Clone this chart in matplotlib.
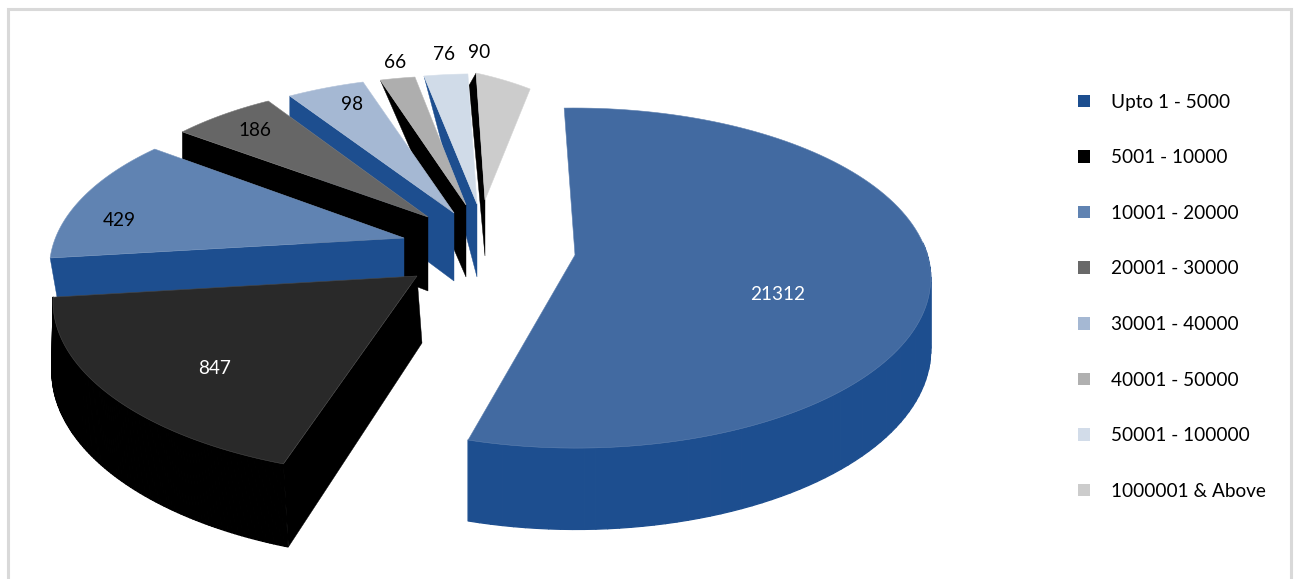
import numpy as np
import matplotlib
matplotlib.use('Agg')
import matplotlib.pyplot as plt
from matplotlib.patches import Polygon, Patch
from matplotlib.collections import PolyCollection

plt.rcParams['font.family'] = ['Lato', 'DejaVu Sans']

# chart data
categories = ['Upto 1 - 5000', '5001 - 10000', '10001 - 20000', '20001 - 30000',
              '30001 - 40000', '40001 - 50000', '50001 - 100000', '1000001 & Above']
values = [21312, 847, 429, 186, 98, 66, 76, 90]
# the slice angles in the picture do not follow the values, so they are read off it
# (degrees clockwise from the back of the pie)
angle_start = [-2.0, 198.6, 263.2, 306.2, 326.4, 342.0, 348.9, 358.1]
angle_end = [195.3, 263.0, 307.0, 326.9, 341.8, 349.3, 358.1, 370.9]

# colours
top_colors = ['#426AA1', '#292929', '#6083B2', '#666666', '#A5B8D3', '#AEAEAE', '#D0DBE8', '#CCCCCC']
side_colors = ['#1D4E8F', '#000000', '#1D4E8F', '#000000', '#1D4E8F', '#000000', '#1D4E8F', '#000000']
legend_colors = ['#1D4E8F', '#000000', '#6083B2', '#696969', '#A5B8D3', '#B0B0B0', '#D2DCE9', '#CCCCCC']
label_colors = ['white', 'white', 'black', 'black', 'black', 'black', 'black', 'black']

# layout of the exploded pie, in pixels
apex_x = [575, 417, 404, 428, 454, 466, 477, 485]
apex_y = [255, 276, 238, 217, 213, 205, 204, 200]
radius_start = [1.0, 1.026, 0.99, 0.931, 0.936, 0.888, 0.885, 0.864]
radius_end = [0.99, 1.018, 0.956, 0.923, 0.932, 0.884, 0.885, 0.767]
apex_depth = [68, 67, 39, 74, 68, 72, 73, 56]
rim_depth = [70, 72, 70, 70, 70, 0, 0, 14]
apex_lean = [0, 5, 0, 0, 0, 0, 0, 0]
rim_lean = [0, 5, 12.5, 0, 0, 0, 0, -7]
label_x = [778, 215, 119, 255, 352, 395, 444, 479]
label_y = [295, 369, 220, 131, 104, 62, 54, 53]
draw_order = [7, 6, 5, 4, 3, 2, 1, 0]
has_wall = [True, True, False, False, False, False, False, False]
has_cut = [False, True, True, True, True, True, True, True]

PIE_A = 354.0
PIE_E = 167.6
PIE_K = -0.14

fig = plt.figure(figsize=(13, 5.79), dpi=100)
ax = fig.add_axes([0, 0, 1, 1])
ax.set_xlim(0, 1300)
ax.set_ylim(579, 0)
ax.axis('off')

# outer frame, open at the bottom
ax.plot([8, 8, 1291, 1291], [579, 9, 9, 579], color='#D9D9D9', lw=2.2, solid_joinstyle='miter')


def lighter(col, amount=0.15):
    rgb = np.array(matplotlib.colors.to_rgb(col))
    return tuple(rgb + (1 - rgb) * amount)


def rim_points(i):
    theta = np.radians(np.linspace(angle_start[i], angle_end[i], 120))
    r = np.linspace(radius_start[i], radius_end[i], 120)
    u = np.sin(theta)
    v = -np.cos(theta)
    w = 1 + PIE_K * v
    x = apex_x[i] + r * PIE_A * u / w
    y = apex_y[i] + r * PIE_E * v / w
    return x, y, v, w


for i in draw_order:
    x, y, v, w = rim_points(i)
    ax_, ay_ = apex_x[i], apex_y[i]
    side = side_colors[i]
    # the drop under the rim grows towards the viewer
    by = y + rim_depth[i] / w

    # cut face, then the curved wall as small quads, then the top
    if has_cut[i]:
        ax.add_patch(Polygon([(x[0], y[0]), (ax_, ay_),
                              (ax_ + apex_lean[i], ay_ + apex_depth[i]),
                              (x[0] + rim_lean[i], by[0])],
                             closed=True, fc=side, ec=side, lw=0.3))
    if has_wall[i]:
        bx = x + rim_lean[i] * v - (2 * (1 - v) if i == 1 else 0)
        # only the front part of the rim has a wall that can be seen
        quads = [[(x[j], y[j]), (x[j + 1], y[j + 1]), (bx[j + 1], by[j + 1]), (bx[j], by[j])]
                 for j in range(len(x) - 1) if v[j] > -0.1]
        ax.add_collection(PolyCollection(quads, facecolors=side, edgecolors=side, linewidths=0.9))
    top = np.column_stack([np.r_[ax_, x], np.r_[ay_, y]])
    ax.add_patch(Polygon(top, closed=True, fc=top_colors[i], ec=lighter(top_colors[i]), lw=0.4))

for i in range(len(values)):
    ax.text(label_x[i], label_y[i], str(values[i]), color=label_colors[i],
            fontsize=13.7, ha='center', va='center')

handles = [Patch(facecolor=c, edgecolor='none', label=n) for c, n in zip(legend_colors, categories)]
ax.legend(handles=handles, loc='upper left', bbox_to_anchor=(1078 / 1300, 1 - 93.5 / 579),
          frameon=False, fontsize=13.7, labelspacing=2.03, handlelength=0.63, handleheight=0.63,
          handletextpad=1.1, borderpad=0, borderaxespad=0)

fig.savefig('out.png', dpi=100)
